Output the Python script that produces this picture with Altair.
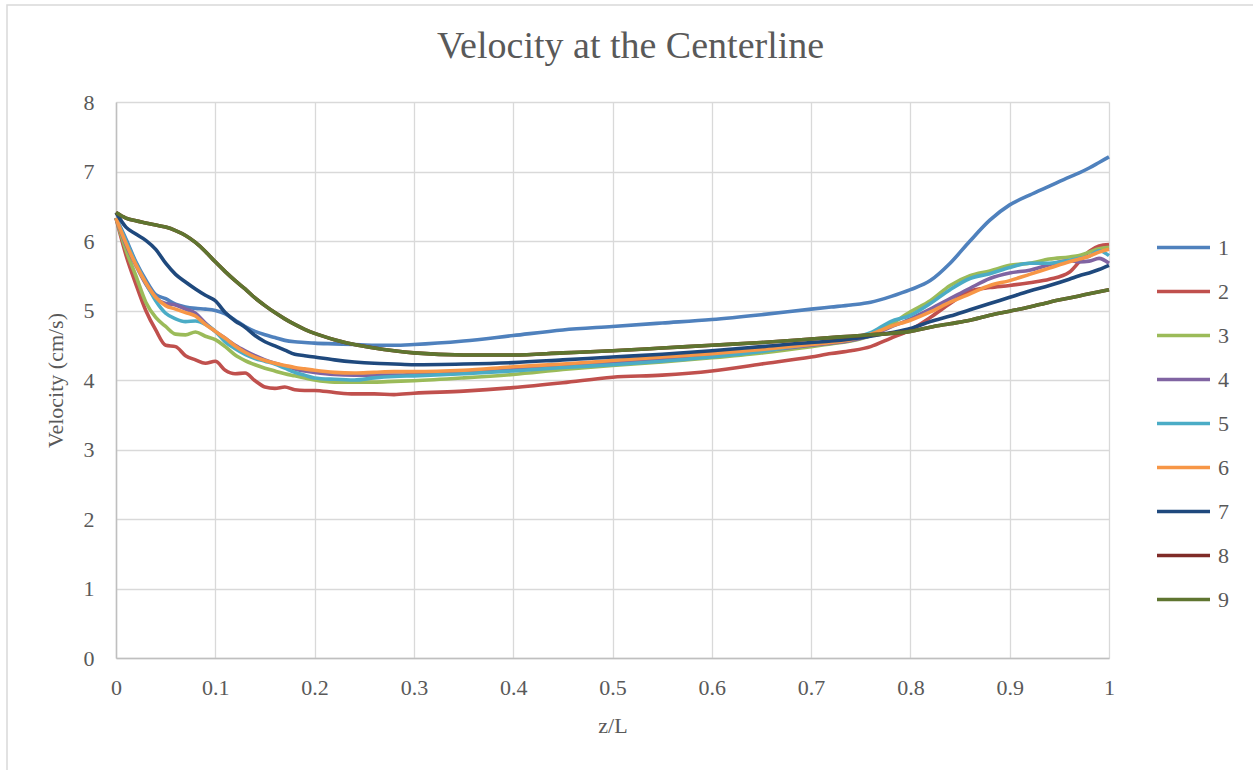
import altair as alt
import pandas as pd

Z = [0, .01, .02, .03, .04, .05, .06, .07, .08, .09, .10, .11, .12, .13, .14, .15, .16, .17, .18, .19, .20,
     .22, .24, .26, .28, .30, .35, .40, .45, .50, .55, .60, .65, .70,
     .72, .74, .76, .78, .80, .82, .84, .86, .88, .90, .92, .94, .96, .97, .98, .99, 1.00]

S1 = [6.33, 6.03, 5.70, 5.44, 5.23, 5.17, 5.09, 5.05, 5.03, 5.02, 5.00, 4.95, 4.86, 4.77, 4.70, 4.65, 4.61, 4.57, 4.55, 4.54, 4.53,
      4.52, 4.51, 4.50, 4.50, 4.51, 4.56, 4.64, 4.72, 4.77, 4.82, 4.87, 4.94, 5.02,
      5.05, 5.08, 5.12, 5.20, 5.30, 5.43, 5.68, 6.00, 6.30, 6.52, 6.66, 6.79, 6.92, 6.98, 7.05, 7.13, 7.21]
S2 = [6.33, 5.80, 5.38, 5.00, 4.72, 4.50, 4.48, 4.35, 4.29, 4.24, 4.27, 4.14, 4.09, 4.10, 3.99, 3.90, 3.88, 3.90, 3.86, 3.85, 3.85,
      3.82, 3.80, 3.80, 3.79, 3.81, 3.84, 3.89, 3.96, 4.04, 4.07, 4.13, 4.23, 4.33,
      4.38, 4.42, 4.48, 4.60, 4.72, 4.90, 5.10, 5.28, 5.33, 5.36, 5.40, 5.45, 5.55, 5.70, 5.85, 5.93, 5.95]
S3 = [6.33, 5.87, 5.50, 5.12, 4.90, 4.77, 4.66, 4.65, 4.69, 4.63, 4.58, 4.48, 4.36, 4.28, 4.22, 4.17, 4.13, 4.09, 4.06, 4.03, 4.00,
      3.97, 3.97, 3.97, 3.98, 3.99, 4.03, 4.08, 4.15, 4.21, 4.26, 4.32, 4.39, 4.48,
      4.52, 4.56, 4.64, 4.80, 4.98, 5.14, 5.36, 5.50, 5.57, 5.65, 5.68, 5.74, 5.77, 5.79, 5.84, 5.89, 5.91]
S4 = [6.33, 5.95, 5.65, 5.38, 5.18, 5.10, 5.08, 5.02, 4.96, 4.82, 4.70, 4.60, 4.50, 4.42, 4.35, 4.29, 4.24, 4.20, 4.16, 4.13, 4.11,
      4.08, 4.07, 4.07, 4.07, 4.08, 4.10, 4.15, 4.20, 4.24, 4.29, 4.35, 4.42, 4.50,
      4.53, 4.57, 4.64, 4.76, 4.88, 5.02, 5.17, 5.32, 5.46, 5.54, 5.58, 5.66, 5.72, 5.70, 5.71, 5.75, 5.68]
S5 = [6.33, 6.00, 5.68, 5.40, 5.14, 4.96, 4.88, 4.84, 4.85, 4.80, 4.70, 4.55, 4.45, 4.37, 4.31, 4.27, 4.23, 4.17, 4.11, 4.07, 4.03,
      4.01, 4.00, 4.03, 4.05, 4.06, 4.09, 4.13, 4.18, 4.22, 4.27, 4.33, 4.41, 4.52,
      4.56, 4.60, 4.68, 4.84, 4.93, 5.10, 5.30, 5.46, 5.53, 5.62, 5.68, 5.68, 5.72, 5.75, 5.78, 5.86, 5.79]
S6 = [6.33, 5.97, 5.66, 5.40, 5.19, 5.07, 5.02, 4.97, 4.92, 4.80, 4.70, 4.60, 4.49, 4.40, 4.33, 4.28, 4.24, 4.21, 4.18, 4.16, 4.14,
      4.11, 4.10, 4.11, 4.12, 4.12, 4.14, 4.19, 4.23, 4.28, 4.33, 4.38, 4.44, 4.51,
      4.54, 4.58, 4.66, 4.77, 4.86, 4.98, 5.12, 5.24, 5.36, 5.43, 5.52, 5.61, 5.70, 5.74, 5.78, 5.84, 5.88]
S7 = [6.41, 6.20, 6.10, 6.01, 5.88, 5.68, 5.52, 5.41, 5.31, 5.22, 5.14, 4.97, 4.85, 4.76, 4.64, 4.55, 4.49, 4.43, 4.37, 4.35, 4.33,
      4.29, 4.26, 4.24, 4.23, 4.22, 4.23, 4.25, 4.29, 4.33, 4.37, 4.42, 4.48, 4.54,
      4.56, 4.59, 4.63, 4.68, 4.74, 4.84, 4.92, 5.01, 5.10, 5.19, 5.28, 5.36, 5.45, 5.50, 5.54, 5.59, 5.65]
S8 = [6.41, 6.33, 6.29, 6.26, 6.23, 6.20, 6.15, 6.08, 5.98, 5.85, 5.70, 5.56, 5.43, 5.31, 5.18, 5.07, 4.97, 4.88, 4.80, 4.73, 4.67,
      4.58, 4.51, 4.46, 4.42, 4.39, 4.36, 4.36, 4.39, 4.42, 4.46, 4.50, 4.54, 4.59,
      4.61, 4.63, 4.65, 4.67, 4.70, 4.76, 4.81, 4.86, 4.93, 4.99, 5.05, 5.12, 5.18, 5.21, 5.24, 5.27, 5.30]
S9 = [6.41, 6.33, 6.29, 6.26, 6.23, 6.20, 6.15, 6.08, 5.98, 5.85, 5.70, 5.56, 5.43, 5.31, 5.18, 5.07, 4.97, 4.88, 4.80, 4.73, 4.67,
      4.58, 4.51, 4.46, 4.42, 4.39, 4.36, 4.36, 4.39, 4.42, 4.46, 4.50, 4.54, 4.59,
      4.61, 4.63, 4.65, 4.67, 4.70, 4.76, 4.81, 4.86, 4.93, 4.99, 5.05, 5.12, 5.18, 5.21, 5.24, 5.27, 5.30]

SERIES = ["1", "2", "3", "4", "5", "6", "7", "8", "9"]
COLORS = ["#4F81BD", "#C0504D", "#9BBB59", "#8064A2", "#4BACC6", "#F79646", "#1F497D", "#7F2B28", "#5F7530"]
X_TICKS = [0, 0.1, 0.2, 0.3, 0.4, 0.5, 0.6, 0.7, 0.8, 0.9, 1]
Y_TICKS = [0, 1, 2, 3, 4, 5, 6, 7, 8]

rows = []
for name, vals in zip(SERIES, [S1, S2, S3, S4, S5, S6, S7, S8, S9]):
    for z, v in zip(Z, vals):
        rows.append({"z": z, "v": v, "s": name, "o": int(name)})
df = pd.DataFrame(rows)

FONT = "Liberation Serif"
TXT = "#595959"

lines = alt.Chart(df).mark_line(strokeWidth=3.6, interpolate="monotone").encode(
    x=alt.X("z:Q", title="z/L",
            scale=alt.Scale(domain=[0, 1], nice=False, zero=False),
            axis=alt.Axis(values=X_TICKS, format="~g", labelPadding=19, titlePadding=17,
                          labelFlush=False,
                          labelFont=FONT, labelFontSize=22, labelColor=TXT,
                          titleFont=FONT, titleFontSize=22, titleColor=TXT, titleFontWeight="normal")),
    y=alt.Y("v:Q", title="Velocity (cm/s)",
            scale=alt.Scale(domain=[0, 8], nice=False),
            axis=alt.Axis(values=Y_TICKS, format="d", labelPadding=22, titlePadding=16,
                          labelFlush=False,
                          labelFont=FONT, labelFontSize=22, labelColor=TXT,
                          titleFont=FONT, titleFontSize=22, titleColor=TXT, titleFontWeight="normal")),
    color=alt.Color("s:N", scale=alt.Scale(domain=SERIES, range=COLORS),
                    legend=alt.Legend(title=None, orient="none", legendX=1039, legendY=117,
                                      symbolType="stroke", symbolSize=2809, symbolStrokeWidth=3.6,
                                      labelFontSize=22, labelFont=FONT, labelColor=TXT,
                                      labelOffset=6, rowPadding=4, padding=0)),
    order=alt.Order("o:Q"),
)

border = alt.Chart(pd.DataFrame({"a": [0]})).mark_rect(
    fill=None, stroke="#D9D9D9", strokeWidth=1.5
).encode(x=alt.value(-109), x2=alt.value(1150), y=alt.value(-97), y2=alt.value(680))

chart = alt.layer(border, lines).properties(
    width=993, height=556,
    padding={"left": 116, "top": 102, "right": 144, "bottom": 112},
    autosize=alt.AutoSizeParams(type="none"),
    background="white",
    title=alt.TitleParams("Velocity at the Centerline", fontSize=38, font=FONT, color=TXT,
                          fontWeight="normal", anchor="middle", dx=18, offset=-92,
                          baseline="alphabetic"),
).configure_view(strokeWidth=0).configure_axis(
    gridColor="#D9D9D9", gridWidth=1.3, domainColor="#BFBFBF", domainWidth=1.5,
    ticks=False,
)

chart.save("out.html", embed_options={"renderer": "svg", "actions": False})
